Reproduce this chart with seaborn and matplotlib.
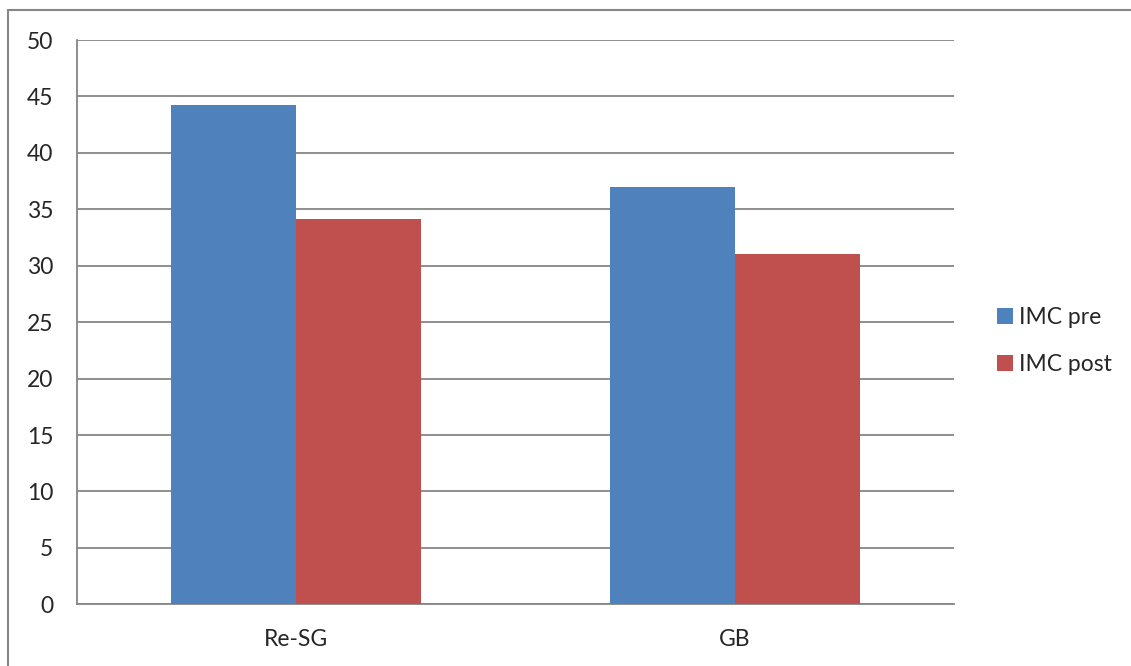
import matplotlib
matplotlib.use("Agg")
import matplotlib.pyplot as plt
from matplotlib.lines import Line2D
from matplotlib.patches import Patch
import seaborn as sns
import pandas as pd

categories = ["Re-SG", "GB"]
series = ["IMC pre", "IMC post"]
imc_pre = [44.2, 37.0]
imc_post = [34.15, 31.0]
colors = ["#4F81BD", "#C0504D"]
y_ticks = [0, 5, 10, 15, 20, 25, 30, 35, 40, 45, 50]

df = pd.DataFrame({
    "group": categories * 2,
    "series": [series[0]] * len(categories) + [series[1]] * len(categories),
    "value": imc_pre + imc_post,
})

sns.set_style("white")
plt.rcParams["font.family"] = ["Lato", "DejaVu Sans"]

W, H = 1131, 666
fig = plt.figure(figsize=(W / 100, H / 100), dpi=100)
ax = fig.add_axes([77 / W, 1 - 604.3 / H, (954 - 77) / W, (604.3 - 40) / H])

grid_c = "#868686"
fs = 16.5
sns.barplot(data=df, x="group", y="value", hue="series", order=categories,
            hue_order=series, palette=colors, width=0.57, saturation=1,
            ax=ax, legend=False, zorder=3)
for p in ax.patches:
    p.set_linewidth(0)

ax.set_xlim(-0.5, 1.5)
ax.set_ylim(0, 50)
ax.set_yticks(y_ticks)
ax.set_yticklabels([str(t) for t in y_ticks], fontsize=fs)
ax.yaxis.grid(True, color=grid_c, linewidth=1.3, zorder=0)
ax.set_axisbelow(True)
ax.set_xlabel("")
ax.set_ylabel("")

ax.set_xticks([0, 1])
ax.set_xticklabels(categories, fontsize=fs)
ax.set_xticks([-0.5, 0.5, 1.5], minor=True)
ax.tick_params(axis="x", which="major", length=0, pad=18)
ax.tick_params(axis="x", which="minor", length=6, width=1.3, color=grid_c, direction="out")
ax.tick_params(axis="y", length=6, width=1.3, color=grid_c, direction="out", pad=11)

for side in ["top", "right"]:
    ax.spines[side].set_visible(False)
for side in ["left", "bottom"]:
    ax.spines[side].set_color(grid_c)
    ax.spines[side].set_linewidth(1.3)

handles = [Patch(facecolor=c, edgecolor="none", label=s) for c, s in zip(colors, series)]
fig.legend(handles=handles, loc="center left", bbox_to_anchor=(997 / W, 1 - 341 / H),
           frameon=False, fontsize=fs, handlelength=0.68, handleheight=0.68,
           handletextpad=0.3, labelspacing=1.15, borderaxespad=0, borderpad=0)

# chart frame: only the top and left edges fall inside the canvas
fig.add_artist(Line2D([8 / W, 1], [1 - 10 / H, 1 - 10 / H], transform=fig.transFigure,
                      color=grid_c, linewidth=1.5))
fig.add_artist(Line2D([8 / W, 8 / W], [0, 1 - 10 / H], transform=fig.transFigure,
                      color=grid_c, linewidth=1.5))

fig.savefig("out.png", dpi=100)
